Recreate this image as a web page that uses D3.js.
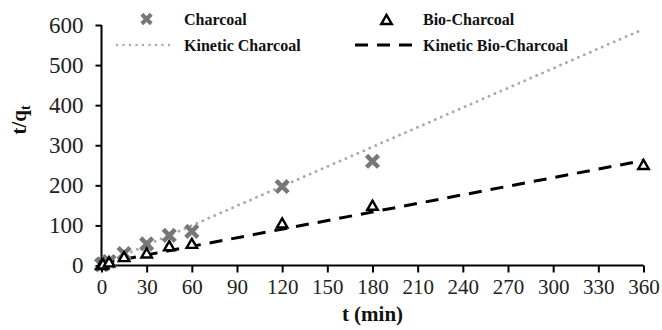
<!DOCTYPE html>
<html><head><meta charset="utf-8">
<script src="https://cdn.jsdelivr.net/npm/d3@7"></script>
<style>body{margin:0;background:#fff}svg{display:block}</style>
</head><body><svg id="c" width="662" height="330" font-family="'Liberation Serif', 'Times New Roman', serif"></svg>
<script>
const xTicks = [0,30,60,90,120,150,180,210,240,270,300,330,360];
const yTicks = [0,100,200,300,400,500,600];
const charcoalT = [0,1,5,15,30,45,60,120,180];
const charcoalV = [2,4,10,30,54,75,85,197,260];
const bioT = [0,1,5,15,30,45,60,120,180,360];
const bioV = [1,3,8,21,30,48,54,105,149,251];
const kinT = [0,360];
const kinCharcoalV = [2,590];
const kinBioV = [5,262];
const legendLabels = ["Charcoal","Bio-Charcoal","Kinetic Charcoal","Kinetic Bio-Charcoal"];

const FONT = "'Liberation Serif', 'Times New Roman', serif";
const svg = d3.select("#c");
const x = d3.scaleLinear().domain([0,360]).range([101.5,643.5]);
const y = d3.scaleLinear().domain([0,600]).range([265.5,25]);

const xa = svg.append("g").attr("transform","translate(0,265.5)")
  .call(d3.axisBottom(x).tickValues(xTicks).tickSizeOuter(0).tickSize(7).tickPadding(7));
const ya = svg.append("g").attr("transform","translate(101.5,0)")
  .call(d3.axisLeft(y).tickValues(yTicks).tickSizeOuter(0).tickSize(6).tickPadding(12));
[xa,ya].forEach(a=>{
  a.attr("font-family",FONT);
  a.selectAll("path,line").attr("stroke","#000").attr("stroke-width",2);
  a.selectAll("text").attr("fill","#222");
});
xa.selectAll("text").attr("font-size",21);
ya.selectAll("text").attr("font-size",23);
xa.select(".domain").attr("d",`M${x(0)},0H${x(360)}`);
ya.select(".domain").attr("d",`M0,${y(0)}V${y(600)}`);

const line = d3.line().x(d=>x(d[0])).y(d=>y(d[1]));
svg.append("path").datum(kinT.map((t,i)=>[t,kinCharcoalV[i]])).attr("d",line)
  .attr("fill","none").attr("stroke","#aaa").attr("stroke-width",3).attr("stroke-linecap","round").attr("stroke-dasharray","0,6.5");
svg.append("path").datum(kinT.map((t,i)=>[t,kinBioV[i]])).attr("d",line)
  .attr("fill","none").attr("stroke","#000").attr("stroke-width",3).attr("stroke-dasharray","13,9");

const xSym = d3.symbol().type(d3.symbolX).size(95);
const triSym = d3.symbol().type(d3.symbolTriangle).size(48);
svg.append("g").selectAll("path").data(charcoalT.map((t,i)=>[t,charcoalV[i]])).join("path")
  .attr("d",xSym).attr("transform",d=>`translate(${x(d[0])},${y(d[1])})`)
  .attr("fill","none").attr("stroke","#777").attr("stroke-width",4.5);
svg.append("g").selectAll("path").data(bioT.map((t,i)=>[t,bioV[i]])).join("path")
  .attr("d",triSym).attr("transform",d=>`translate(${x(d[0])},${y(d[1])+1})`)
  .attr("fill","#fff").attr("stroke","#000").attr("stroke-width",2.4);

// legend
const lg = svg.append("g").attr("font-size",16).attr("font-weight","bold").attr("fill","#111");
lg.append("path").attr("d",d3.symbol().type(d3.symbolX).size(60)).attr("transform","translate(146.5,19)").attr("fill","none").attr("stroke","#777").attr("stroke-width",4);
lg.append("path").attr("d",triSym).attr("transform","translate(386.5,21)").attr("fill","#fff").attr("stroke","#000").attr("stroke-width",2.4);
lg.append("line").attr("x1",117).attr("x2",172).attr("y1",45).attr("y2",45).attr("stroke","#aaa").attr("stroke-width",2.5).attr("stroke-linecap","round").attr("stroke-dasharray","0,6.5");
lg.append("line").attr("x1",355).attr("x2",412).attr("y1",45).attr("y2",45).attr("stroke","#000").attr("stroke-width",3).attr("stroke-dasharray","13,9");
lg.append("text").attr("x",184).attr("y",25).text(legendLabels[0]);
lg.append("text").attr("x",423).attr("y",25).text(legendLabels[1]);
lg.append("text").attr("x",184).attr("y",51).text(legendLabels[2]);
lg.append("text").attr("x",423).attr("y",51).text(legendLabels[3]);

svg.append("text").attr("x",x(180)).attr("y",321).attr("text-anchor","middle")
  .attr("font-size",21).attr("font-weight","bold").attr("fill","#111").text("t (min)");
const yl = svg.append("text").attr("transform","translate(26,120) rotate(-90)").attr("text-anchor","middle")
  .attr("font-size",21).attr("font-weight","bold").attr("fill","#111");
yl.append("tspan").text("t/q");
yl.append("tspan").attr("font-size",14).attr("dy",4).text("t");
</script></body></html>
